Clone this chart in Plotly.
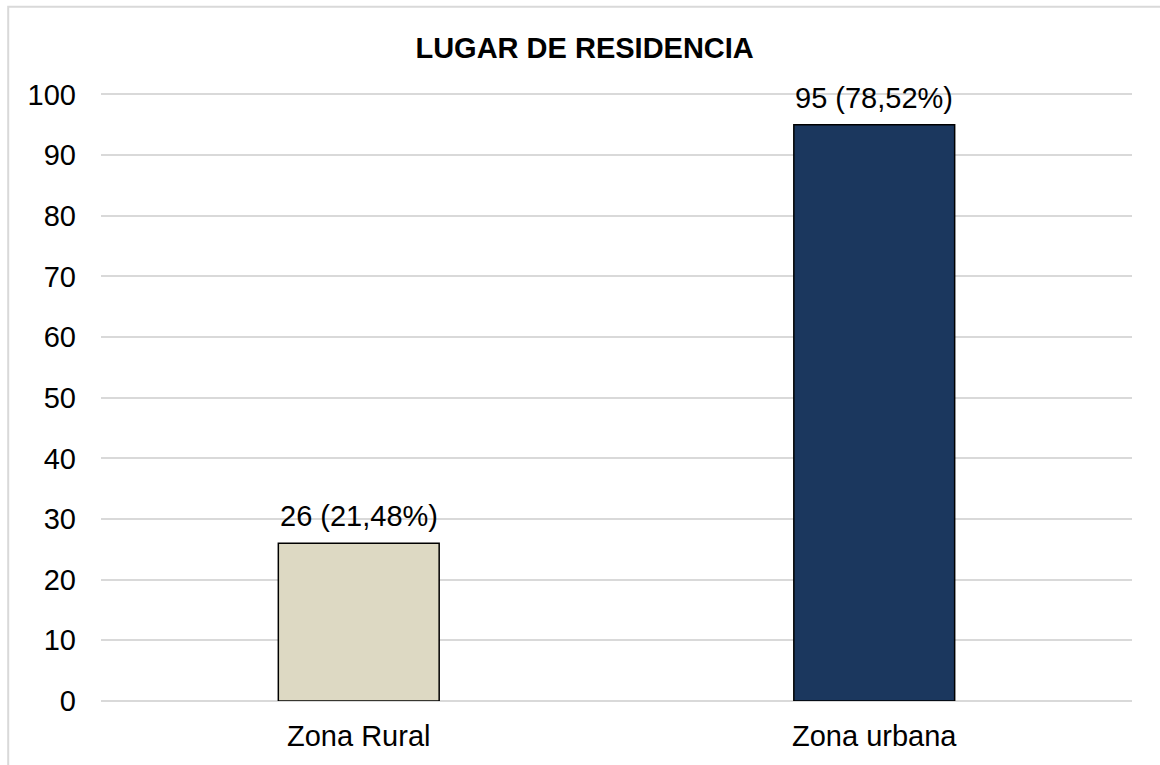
import plotly.graph_objects as go

categorias = ["Zona Rural", "Zona urbana"]
frecuencias = [26, 95]
porcentajes = [21.48, 78.52]
colores = ["#DDD9C3", "#1B375E"]

etiquetas = [f"{n} ({str(p).replace('.', ',')}%)" for n, p in zip(frecuencias, porcentajes)]

fig = go.Figure(go.Bar(
    x=categorias,
    y=frecuencias,
    marker=dict(color=colores, line=dict(color="#000000", width=1.5)),
    width=0.312,
))

# value labels above each bar
for c, v, t in zip(categorias, frecuencias, etiquetas):
    fig.add_annotation(x=c, y=v, text=t, showarrow=False, yanchor="bottom",
                       yshift=9, font=dict(size=29, color="#000000"))

# light frame around the chart area (cut by the image edge on right/bottom)
fig.add_shape(type="rect", xref="paper", yref="paper",
              x0=-0.09, x1=1.04, y0=-0.12, y1=1.14,
              line=dict(color="#D9D9D9", width=2), layer="below")

fig.update_layout(
    width=1160, height=765,
    margin=dict(l=101, r=28, t=92, b=64),
    paper_bgcolor="white", plot_bgcolor="white",
    font=dict(family="Liberation Sans, Arial, sans-serif", size=29, color="#000000"),
    title=dict(text="<b>LUGAR DE RESIDENCIA</b>", x=0.504, xanchor="center",
               y=0.938, yanchor="middle", font=dict(size=29, color="#000000")),
    showlegend=False,
    bargap=0.688,
)
fig.update_yaxes(range=[0, 100.4], dtick=10, showgrid=True, gridcolor="#D9D9D9",
                 gridwidth=1.5, zeroline=True, zerolinecolor="#D9D9D9",
                 zerolinewidth=1.5, showline=False,
                 ticks="", ticklabelstandoff=24, tickfont=dict(size=29))
fig.update_xaxes(showgrid=False, showline=False, ticks="", tickfont=dict(size=29),
                 ticklabelstandoff=15)

fig.write_html("out.html", config={"displayModeBar": False},
               post_script="document.body.style.margin='0';")
